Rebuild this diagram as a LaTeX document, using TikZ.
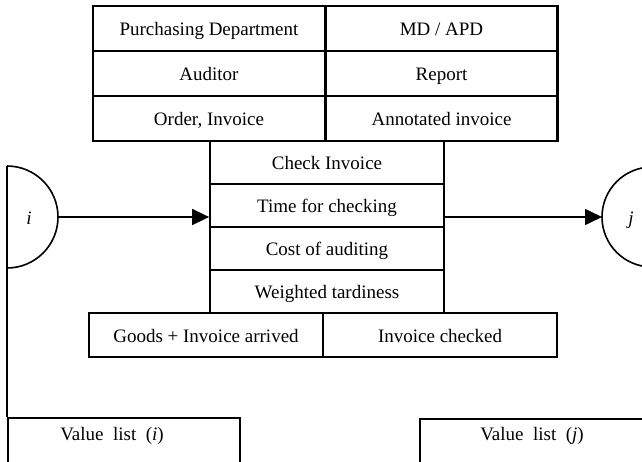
\documentclass[tikz,border=0pt]{standalone}
\usepackage{fontspec}
\setmainfont{Liberation Serif}
\usetikzlibrary{positioning,arrows.meta}

\tikzset{
  txt/.style={font=\fontsize{19}{22}\selectfont, inner sep=0pt, text height=14pt, text depth=0pt},
  cell/.style={txt, draw, line width=2.4pt, minimum width=232pt, minimum height=45pt},
  task/.style={txt, draw, line width=1.8pt, minimum width=234pt, minimum height=43pt},
  edge/.style={line width=1.6pt},
  flow/.style={edge, -{Triangle[length=17pt,width=16pt]}},
}

\begin{document}
\begin{tikzpicture}[x=1pt, y=-1pt]
\useasboundingbox (0,0) rectangle (642,461);
\clip (0,0) rectangle (642,461);

\node[cell] (dept) at (209,28.5) {Purchasing Department};
\node[cell] (md) at (441.5,28.5) {MD / APD};
\node[cell] (auditor) at (209,73.5) {Auditor};
\node[cell] (report) at (441.5,73.5) {Report};
\node[cell] (order) at (209,118.5) {Order, Invoice};
\node[cell] (annot) at (441.5,118.5) {Annotated invoice};

\foreach \y/\name/\label in {162.5/check/Check Invoice, 205.5/time/Time for checking, 248.5/cost/Cost of auditing, 291.5/tard/Weighted tardiness} {
    \node[task] (\name) at (327,\y) {\label};
}

\node[task, minimum height=44pt] (arrived) at (206,335) {Goods + Invoice arrived};
\node[task, minimum height=44pt] (checked) at (440,335) {Invoice checked};

% semicircle i
\coordinate (itop) at (7,166);
\coordinate (iout) at (58,217);
\draw[edge] (itop) arc[start angle=90, end angle=-90, radius=51pt];
\node[txt] (ilabel) at (29,217) {\textit{i}};

% circle j
\coordinate (jc) at (652,217);
\coordinate (jin) at (602,217);
\draw[edge] (jc) circle[radius=50pt];
\node[txt] (jlabel) at (631,217) {\textit{j}};

\draw[flow] (iout) -- (iout -| time.west);
\draw[flow] (jin -| time.east) -- (jin);

% value lists
\node[edge, draw, anchor=north west, minimum width=232pt, minimum height=100pt] (vboxi) at (7,417) {};
\node[txt] (vali) at (112,433) {Value~ list~ (\textit{i})};
\node[edge, draw, anchor=north west, minimum width=240pt, minimum height=100pt] (vboxj) at (419,418) {};
\node[txt] (valj) at (532,433) {Value~ list~ (\textit{j})};

\draw[edge] (itop) -- (vboxi.north west);
\end{tikzpicture}
\end{document}
